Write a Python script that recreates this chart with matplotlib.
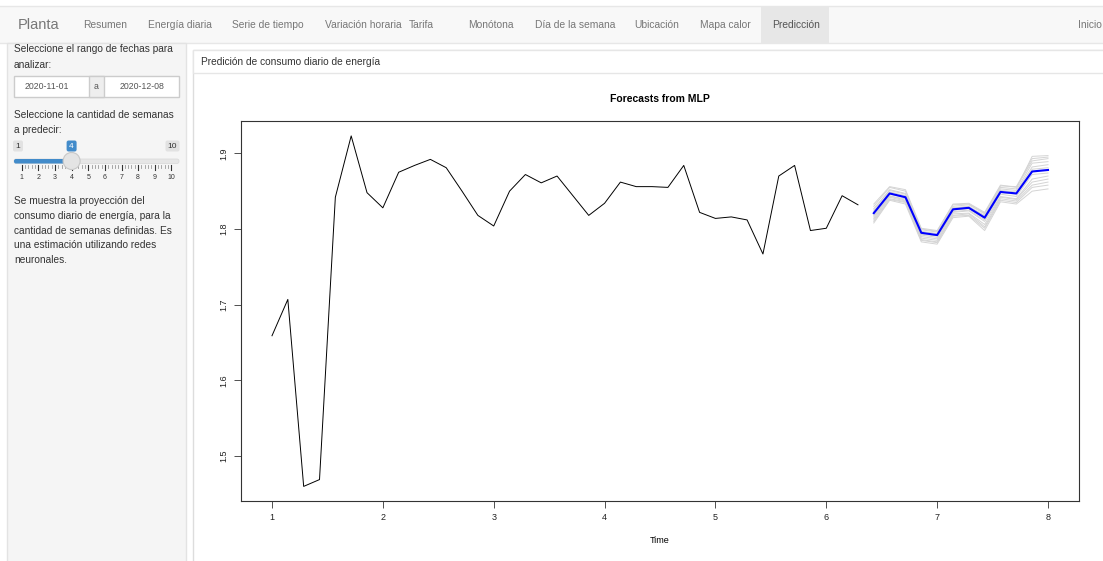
import numpy as np
import matplotlib
matplotlib.use('Agg')
from matplotlib import pyplot as plt
from matplotlib.patches import Rectangle, Circle, FancyBboxPatch

plt.rcParams['font.family'] = ['Liberation Sans', 'DejaVu Sans']

# ---- data ----
tabs = ['Resumen', 'Energía diaria', 'Serie de tiempo', 'Variación horaria', 'Tarifa',
        'Monótona', 'Día de la semana', 'Ubicación', 'Mapa calor', 'Predicción']
tab_x = [83, 148, 232, 325, 409, 468, 535, 634, 700, 772]

date_from = '2020-11-01'
date_to = '2020-12-08'
weeks_min, weeks_sel, weeks_max = 1, 4, 10
slider_labels = [1, 2, 3, 4, 5, 6, 7, 8, 9, 10]

freq = 7
start = 1
history = [1.659, 1.707, 1.460, 1.469, 1.842, 1.923, 1.848, 1.828, 1.875, 1.884,
           1.892, 1.881, 1.850, 1.818, 1.804, 1.850, 1.872, 1.861, 1.870, 1.844,
           1.818, 1.834, 1.862, 1.856, 1.856, 1.855, 1.884, 1.822, 1.814, 1.816,
           1.812, 1.767, 1.870, 1.884, 1.798, 1.801, 1.844, 1.832]
forecast = [1.821, 1.847, 1.842, 1.795, 1.792, 1.826, 1.828, 1.815, 1.849, 1.847, 1.876, 1.878]

reps = [
    [1.825, 1.852, 1.847, 1.799, 1.796, 1.830, 1.832, 1.820, 1.855, 1.853, 1.896, 1.897],
    [1.818, 1.844, 1.838, 1.790, 1.787, 1.822, 1.824, 1.810, 1.843, 1.840, 1.866, 1.870],
    [1.830, 1.855, 1.850, 1.800, 1.797, 1.833, 1.834, 1.822, 1.858, 1.855, 1.890, 1.893],
    [1.812, 1.840, 1.836, 1.786, 1.783, 1.818, 1.820, 1.803, 1.840, 1.837, 1.858, 1.862],
    [1.823, 1.849, 1.844, 1.797, 1.794, 1.828, 1.830, 1.817, 1.851, 1.849, 1.882, 1.885],
    [1.808, 1.838, 1.833, 1.783, 1.780, 1.815, 1.817, 1.798, 1.836, 1.833, 1.850, 1.853],
    [1.827, 1.851, 1.846, 1.793, 1.791, 1.827, 1.829, 1.818, 1.853, 1.851, 1.887, 1.889],
    [1.816, 1.843, 1.840, 1.792, 1.789, 1.823, 1.825, 1.812, 1.846, 1.843, 1.872, 1.874],
    [1.833, 1.856, 1.852, 1.801, 1.798, 1.832, 1.833, 1.821, 1.857, 1.856, 1.893, 1.895],
    [1.814, 1.842, 1.837, 1.788, 1.785, 1.820, 1.821, 1.806, 1.842, 1.839, 1.862, 1.866],
    [1.821, 1.846, 1.841, 1.794, 1.792, 1.825, 1.827, 1.814, 1.848, 1.846, 1.879, 1.881],
    [1.810, 1.839, 1.835, 1.785, 1.782, 1.817, 1.818, 1.801, 1.838, 1.835, 1.855, 1.858],
]

W, H = 1103, 561
fig = plt.figure(figsize=(W/100., H/100.), dpi=100)
fig.patch.set_facecolor('white')

# page overlay in pixel coords
bg = fig.add_axes([0, 0, 1, 1])
bg.set_xlim(0, W)
bg.set_ylim(H, 0)
bg.axis('off')

def box(x0, y0, x1, y1, fc, ec='none', lw=1, z=1):
    bg.add_patch(Rectangle((x0, y0), x1-x0, y1-y0, facecolor=fc, edgecolor=ec, lw=lw, zorder=z))

# navbar
box(-2, 6, W+2, 43, '#f8f8f8', '#e7e7e7')
box(761, 6, 829, 43, '#e7e7e7', z=2)
bg.text(18, 24.5, 'Planta', fontsize=10.5, color='#777777', va='center', zorder=3)
for lab, x in zip(tabs, tab_x):
    col = '#555555' if lab == 'Predicción' else '#777777'
    bg.text(x, 24.5, lab, fontsize=7.4, color=col, va='center', zorder=3)
bg.text(1078, 24.5, 'Inicio', fontsize=7.4, color='#777777', va='center', zorder=3)

# sidebar
box(7, 43, 186, H+2, '#f5f5f5', '#e3e3e3')
st = dict(fontsize=7.3, color='#333333', va='center', zorder=3)
bg.text(14, 49, 'Seleccione el rango de fechas para', **st)
bg.text(14, 65, 'analizar:', **st)
box(14, 76, 179, 97, 'white', '#cccccc', z=2)
box(89, 76, 104, 97, '#eeeeee', '#cccccc', z=2)
bg.text(47, 86.5, date_from, fontsize=6.3, color='#555555', ha='center', va='center', zorder=3)
bg.text(96.5, 86.5, 'a', fontsize=6.3, color='#555555', ha='center', va='center', zorder=3)
bg.text(142, 86.5, date_to, fontsize=6.3, color='#555555', ha='center', va='center', zorder=3)
bg.text(14, 115, 'Seleccione la cantidad de semanas', **st)
bg.text(14, 130, 'a predecir:', **st)

# slider
def sx(v):
    return 21.7 + (v - weeks_min) * (171.4 - 21.7) / (weeks_max - weeks_min)

for v, fc, tc in [(weeks_min, '#e2e2e2', '#333333'), (weeks_sel, '#428bca', 'white'),
                  (weeks_max, '#e2e2e2', '#333333')]:
    w = 5 if v < 10 else 7
    x = sx(v) if v not in (weeks_min, weeks_max) else (18 if v == weeks_min else 172.5)
    bg.add_patch(FancyBboxPatch((x-w, 140.5), 2*w, 11, boxstyle='round,pad=0,rounding_size=2',
                                facecolor=fc, edgecolor='none', zorder=3))
    bg.text(x, 146.3, str(v), fontsize=6, color=tc, ha='center', va='center', zorder=4)
bg.add_patch(FancyBboxPatch((14, 159), 165, 4.5, boxstyle='round,pad=0,rounding_size=2',
                            facecolor='#e6e6e6', edgecolor='#d8d8d8', lw=0.5, zorder=3))
bg.add_patch(FancyBboxPatch((14, 159), sx(weeks_sel)-14, 4.5, boxstyle='round,pad=0,rounding_size=2',
                            facecolor='#428bca', edgecolor='none', zorder=3))
for v in slider_labels:
    bg.plot([sx(v), sx(v)], [165, 170], color='#333333', lw=0.8, zorder=3)
    bg.text(sx(v), 177, str(v), fontsize=5, color='#333333', ha='center', va='center', zorder=3)
    if v < weeks_max:
        for j in range(1, 5):
            xm = sx(v + j/5.)
            bg.plot([xm, xm], [165, 167.5], color='#999999', lw=0.6, zorder=3)
bg.add_patch(Circle((sx(weeks_sel), 161), 8.5, facecolor='#e4e4e4', edgecolor='#c8c8c8', lw=0.8, zorder=5))

para = ['Se muestra la proyección del', 'consumo diario de energía, para la',
        'cantidad de semanas definidas. Es', 'una estimación utilizando redes', 'neuronales.']
for i, line in enumerate(para):
    bg.text(14, 201 + i*14.8, line, **st)

# main panel
box(193, 50, W+5, H+5, 'white', '#dddddd')
box(193, 50, W+5, 73, '#ffffff', '#e6e6e6', z=2)
bg.text(201, 62, 'Predición de consumo diario de energía', fontsize=7.3, color='#333333',
        va='center', zorder=3)

# ---- R style forecast plot ----
x0, x1, y0, y1 = 241, 1079, 121, 501
ax = fig.add_axes([x0/W, 1 - y1/H, (x1-x0)/W, (y1-y0)/H])
ax.set_facecolor('white')

t_hist = start + np.arange(len(history)) / freq
t_fc = start + (len(history) + np.arange(len(forecast))) / freq

for r in reps:
    ax.plot(t_fc, r, color='#d4d4d4', lw=0.7)
ax.plot(t_hist, history, color='black', lw=0.7)
ax.plot(t_fc, forecast, color='#0000ff', lw=1.5)

ax.set_xlim(0.7204, 8.2796)
ax.set_ylim(1.4407, 1.9427)
ax.set_xticks(range(1, 9))
ax.set_yticks([1.5, 1.6, 1.7, 1.8, 1.9])
ax.set_yticklabels(['1.5', '1.6', '1.7', '1.8', '1.9'], rotation=90, va='center')
ax.tick_params(length=5, width=0.6, labelsize=6.5, color='#333333', labelcolor='#222222', pad=4)
for s in ax.spines.values():
    s.set_linewidth(0.8)
    s.set_color('#333333')
ax.set_title('Forecasts from MLP', fontsize=7.5, fontweight='bold', pad=14)
ax.set_xlabel('Time', fontsize=6.5, labelpad=10)

fig.savefig('out.png', dpi=100, facecolor='white')
